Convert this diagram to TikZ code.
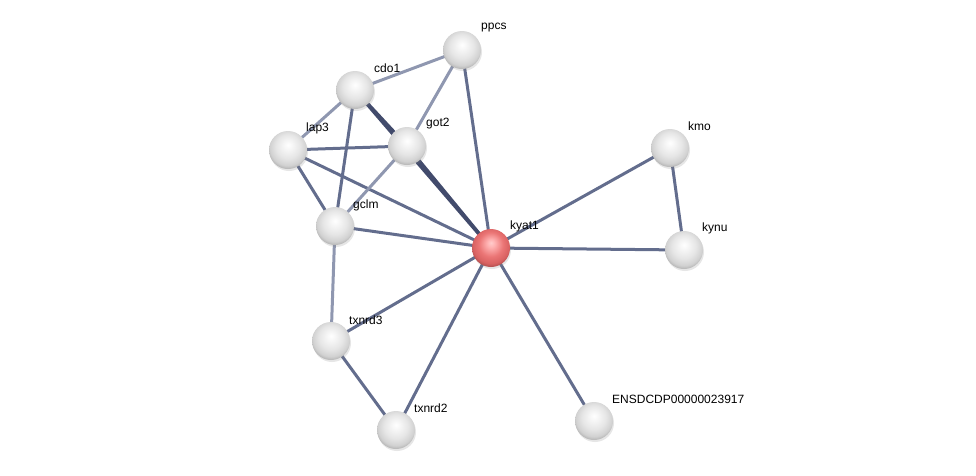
\documentclass[tikz,border=0pt]{standalone}
\usepackage{fontspec}
\setmainfont{Liberation Sans}
\usetikzlibrary{shadows}
\definecolor{edgen}{HTML}{636D8D}
\definecolor{edgel}{HTML}{8F97B0}
\definecolor{edged}{HTML}{424B6C}
\pgfdeclareradialshading{greyball}{\pgfpoint{0bp}{7bp}}{color(0bp)=(white);
  color(5bp)=(white!97!black); color(16bp)=(white!90!black); color(24bp)=(white!82!black);
  color(29bp)=(white!68!black); color(33bp)=(white!50!black); color(50bp)=(white!45!black)}
\pgfdeclareradialshading{redball}{\pgfpoint{0bp}{7bp}}{color(0bp)=(red!20!white);
  color(5bp)=(red!30!white); color(16bp)=(red!50!white!92!black); color(24bp)=(red!55!white!85!black);
  color(29bp)=(red!55!white!65!black); color(33bp)=(red!50!black); color(50bp)=(red!45!black)}
\begin{document}
\begin{tikzpicture}[x=1pt,y=-1pt,
  prot/.style={circle,minimum size=38pt,inner sep=0pt,shading=greyball,
    drop shadow={opacity=0.2,shadow xshift=1pt,shadow yshift=-2pt}},
  hit/.style={prot,shading=redball},
  lbl/.style={anchor=west,font=\fontsize{12}{13}\selectfont,inner sep=0pt},
  lnk/.style={line width=3pt,draw=edgen},
  lnkl/.style={line width=3pt,draw=edgel},
  lnkd/.style={line width=3.4pt,draw=edged}]
\useasboundingbox (0,0) rectangle (976,475);
\coordinate (pP) at (462,50);
\coordinate (pC) at (355,90);
\coordinate (pL) at (288,150);
\coordinate (pG) at (407,146);
\coordinate (pM) at (335,226);
\coordinate (pK) at (491,248);
\coordinate (pO) at (670,148);
\coordinate (pU) at (684,250);
\coordinate (p3) at (331,341);
\coordinate (p2) at (396,430);
\coordinate (pE) at (594,421);
% edges
\draw[lnkl] (pP) -- (pC);
\draw[lnkl] (pP) -- (pG);
\draw[lnk] (pP) -- (pK);
\draw[lnkl] (pC) -- (pL);
\draw[lnkd] (pC) -- (pG);
\draw[lnk] (pC) -- (pM);
\draw[lnkd] (pC) -- (pK);
\draw[lnk] (pL) -- (pG);
\draw[lnk] (pL) -- (pM);
\draw[lnk] (pL) -- (pK);
\draw[lnkl] (pG) -- (pM);
\draw[lnkd] (pG) -- (pK);
\draw[lnk] (pM) -- (pK);
\draw[lnkl] (pM) -- (p3);
\draw[lnk] (p3) -- (p2);
\draw[lnk] (p3) -- (pK);
\draw[lnk] (p2) -- (pK);
\draw[lnk] (pK) -- (pO);
\draw[lnk] (pK) -- (pU);
\draw[lnk] (pK) -- (pE);
\draw[lnk] (pO) -- (pU);
% nodes
\node[prot] (ppcs) at (pP) {};
\node[prot] (cdo1) at (pC) {};
\node[prot] (lap3) at (pL) {};
\node[prot] (got2) at (pG) {};
\node[prot] (gclm) at (pM) {};
\node[hit] (kyat1) at (pK) {};
\node[prot] (kmo) at (pO) {};
\node[prot] (kynu) at (pU) {};
\node[prot] (txnrd3) at (p3) {};
\node[prot] (txnrd2) at (p2) {};
\node[prot] (ensd) at (pE) {};
% labels
\node[lbl] (tppcs) at ([shift={(19,-22)}]pP) {ppcs};
\node[lbl] (tcdo1) at ([shift={(19,-22)}]pC) {cdo1};
\node[lbl] (tlap3) at ([shift={(18,-22)}]pL) {lap3};
\node[lbl] (tgot2) at ([shift={(19,-22)}]pG) {got2};
\node[lbl] (tgclm) at ([shift={(18,-21)}]pM) {gclm};
\node[lbl] (tkyat1) at ([shift={(19,-22)}]pK) {kyat1};
\node[lbl] (tkmo) at ([shift={(18,-22)}]pO) {kmo};
\node[lbl] (tkynu) at ([shift={(18,-22)}]pU) {kynu};
\node[lbl] (ttx3) at ([shift={(18,-21)}]p3) {txnrd3};
\node[lbl] (ttx2) at ([shift={(18,-22)}]p2) {txnrd2};
\node[lbl] (tensd) at ([shift={(18,-22)}]pE) {ENSDCDP00000023917};
\end{tikzpicture}
\end{document}
